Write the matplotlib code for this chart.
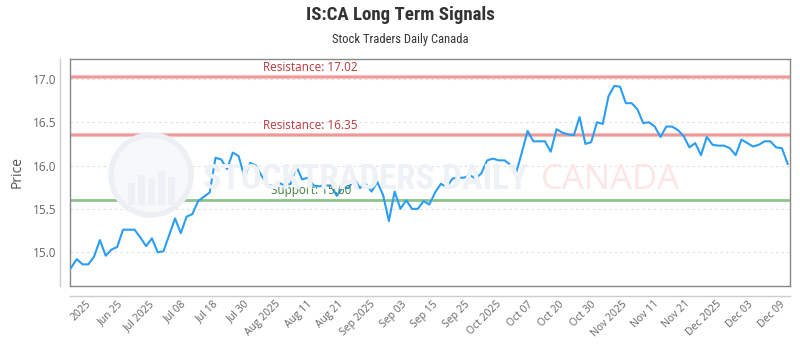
import matplotlib
matplotlib.use("Agg")
import matplotlib.pyplot as plt
from matplotlib.lines import Line2D
from matplotlib.patches import Ellipse, Rectangle
from matplotlib import font_manager
import numpy as np

# ---- data ----
prices = [
    14.82, 14.92, 14.86, 14.86, 14.95, 15.14, 14.96, 15.03, 15.06, 15.26,
    15.26, 15.26, 15.17, 15.07, 15.16, 15.00, 15.01, 15.20, 15.39, 15.22,
    15.41, 15.44, 15.59, 15.64, 15.69, 16.09, 16.07, 15.96, 16.15, 16.11,
    15.87, 16.03, 16.00, 15.88, 15.78, 15.76, 15.80, 15.77, 15.79, 15.99,
    15.84, 15.86, 15.77, 15.76, 15.77, 15.77, 15.65, 15.75, 15.74, 15.85,
    15.74, 15.79, 15.70, 15.81, 15.66, 15.36, 15.70, 15.50, 15.60, 15.50,
    15.50, 15.59, 15.55, 15.69, 15.79, 15.75, 15.85, 15.86, 15.86, 15.89,
    15.85, 15.91, 16.06, 16.08, 16.06, 16.06, 16.01, 15.91, 16.15, 16.40,
    16.28, 16.28, 16.28, 16.16, 16.42, 16.38, 16.36, 16.35, 16.56, 16.25,
    16.27, 16.50, 16.48, 16.80, 16.92, 16.91, 16.72, 16.72, 16.65, 16.49,
    16.50, 16.45, 16.33, 16.45, 16.45, 16.41, 16.34, 16.21, 16.26, 16.12,
    16.33, 16.24, 16.23, 16.23, 16.20, 16.12, 16.30, 16.26, 16.22, 16.24,
    16.28, 16.28, 16.21, 16.20, 16.02,
]
tick_labels = ["2025", "Jun 25", "Jul 2025", "Jul 08", "Jul 18", "Jul 30",
               "Aug 2025", "Aug 11", "Aug 21", "Sep 2025", "Sep 03", "Sep 15",
               "Sep 25", "Oct 2025", "Oct 07", "Oct 20", "Oct 30", "Nov 2025",
               "Nov 11", "Nov 21", "Dec 2025", "Dec 03", "Dec 09"]
resistance_levels = [17.02, 16.35]
support_levels = [15.60]
y_ticks = [15.0, 15.5, 16.0, 16.5, 17.0]

title = "IS:CA Long Term Signals"
subtitle = "Stock Traders Daily Canada"

# condensed font if available
names = {f.name for f in font_manager.fontManager.ttflist}
cond_candidates = ["Liberation Sans Narrow", "DejaVu Sans Condensed",
                   "Roboto Condensed", "Open Sans Condensed"]
COND = [c for c in cond_candidates if c in names]
narrow = (COND[:1] or []) + ["DejaVu Sans"]
BODY = ["Open Sans", "DejaVu Sans"]

# ---- figure ----
W, H = 800, 350
fig = plt.figure(figsize=(W / 100, H / 100), dpi=100)
L, R, T, B = 70, 790, 59, 286
ax = fig.add_axes([L / W, 1 - B / H, (R - L) / W, (B - T) / H])

x = np.arange(len(prices))
n = len(prices)
ax.set_xlim(-0.17, n - 1 + 0.4)
ax.set_ylim(14.61, 17.23)

# watermark
fig.text(203 / W, 1 - 180 / H, "STOCKTRADERS DAILY", color="#eef1f5",
         family=narrow, fontsize=25, fontweight="bold", fontstretch="condensed",
         transform=fig.transFigure, ha="left", va="center", zorder=0)
fig.text(541 / W, 1 - 180 / H, "CANADA", color="#fde6e6",
         family=BODY, fontsize=25, transform=fig.transFigure, ha="left",
         va="center", zorder=0)
circ = Ellipse((151 / W, 1 - 175 / H), 80 / W, 80 / H,
               transform=fig.transFigure, facecolor="#f6f8fa",
               edgecolor="#eceff4", lw=4, zorder=0)
fig.patches.append(circ)
for bx, bh in [(128, 22), (138, 30), (148, 26), (158, 34), (168, 28)]:
    fig.patches.append(Rectangle((bx / W, 1 - 205 / H), 7 / W, bh / H,
                                 transform=fig.transFigure,
                                 facecolor="#edf0f4", edgecolor="none",
                                 zorder=0))

# grid
ax.set_yticks(y_ticks)
ax.set_yticklabels([f"{v:.1f}" for v in y_ticks])
ax.yaxis.grid(True, linestyle=(0, (2, 3)), color="#dddddd", lw=0.8)
ax.set_axisbelow(True)
ax.patch.set_alpha(0)

# level lines
for lv in resistance_levels:
    ax.axhline(lv, color="#f6c2c2", lw=3.0, zorder=2)
    ax.axhline(lv, color="#ef9494", lw=1.3, zorder=2)
for lv in support_levels:
    ax.axhline(lv, color="#8cc48c", lw=2.0, zorder=2)

for lv in resistance_levels:
    ax.annotate(f"Resistance: {lv:.2f}", xy=((263 - L) / (R - L), lv),
                xycoords=("axes fraction", "data"), xytext=(0, 2),
                textcoords="offset points", ha="left", va="bottom",
                color="#b83a3a", fontsize=8.5, family=BODY, zorder=4)
for lv in support_levels:
    ax.annotate(f"Support: {lv:.2f}", xy=((271 - L) / (R - L), lv),
                xycoords=("axes fraction", "data"), xytext=(0, 2),
                textcoords="offset points", ha="left", va="bottom",
                color="#3f7f3f", fontsize=8.5, family=BODY, zorder=4)

# price line
ax.plot(x, prices, color="#2a9df4", lw=1.5, zorder=3)

# x ticks
tick_px = np.linspace(90, 783, len(tick_labels))
tick_pos = (tick_px - 71) / ((787.7 - 71) / (n - 1))
ax.set_xticks(tick_pos)
ax.set_xticklabels(tick_labels, rotation=45, ha="right", va="center",
                   rotation_mode="anchor", fontsize=7.5, color="#666666",
                   family=BODY)
ax.tick_params(axis="x", length=0, pad=12)
ax.tick_params(axis="y", length=0, pad=10, labelsize=8.5, labelcolor="#666666")
for lab in ax.get_yticklabels():
    lab.set_family(BODY)

for s in ax.spines.values():
    s.set_color("#888888")
    s.set_linewidth(1.0)

ax.set_ylabel("Price", fontsize=10, color="#555555", family=BODY, labelpad=6)

# offset axis lines
fig.add_artist(Line2D([60 / W, 60 / W], [1 - 59 / H, 1 - 286 / H],
                      transform=fig.transFigure, color="#cccccc", lw=1))
fig.add_artist(Line2D([70 / W, 790 / W], [1 - 296 / H, 1 - 296 / H],
                      transform=fig.transFigure, color="#cccccc", lw=1))

fig.text(0.5, 1 - 15 / H, title, ha="center", va="center", fontsize=13.6,
         fontweight="bold", color="#333333", family=narrow,
         fontstretch="condensed")
fig.text(0.5, 1 - 40 / H, subtitle, ha="center", va="center", fontsize=9,
         color="#333333", family=narrow, fontstretch="condensed")

fig.savefig("out.png", dpi=100)
